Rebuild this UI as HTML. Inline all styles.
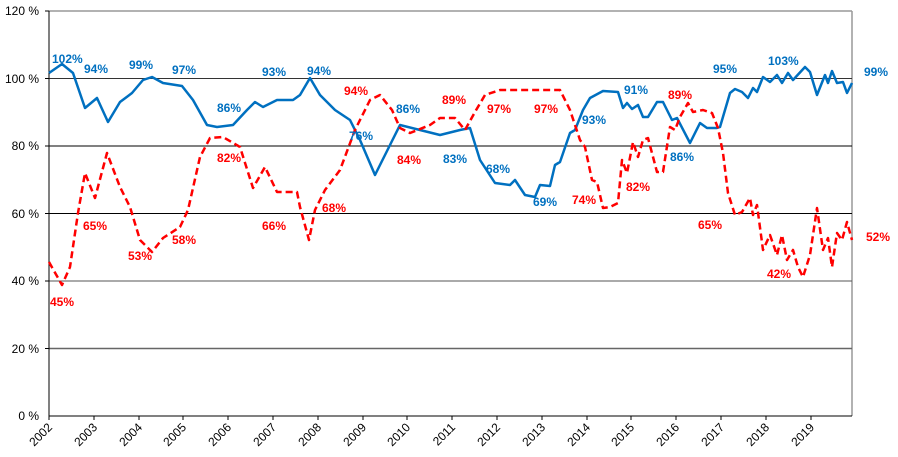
<!DOCTYPE html>
<html><head><meta charset="utf-8"><style>
html,body{margin:0;padding:0;background:#fff;}
svg{display:block;font-family:"Liberation Sans",Arial,sans-serif;}
.b{fill:#0070c0;font-weight:bold;font-size:12px;}
.r{fill:#ff0000;font-weight:bold;font-size:12px;}
.ax{font-size:12px;fill:#000;}
</style></head><body>
<svg width="898" height="457" viewBox="0 0 898 457">
<line x1="49" y1="11" x2="852" y2="11" stroke="#999" stroke-width="1.5"/>
<line x1="852" y1="11" x2="852" y2="416" stroke="#999" stroke-width="1.5"/>
<line x1="49" y1="78.5" x2="852" y2="78.5" stroke="#333" stroke-width="1"/>
<line x1="49" y1="146" x2="852" y2="146" stroke="#000" stroke-width="1"/>
<line x1="49" y1="213.5" x2="852" y2="213.5" stroke="#000" stroke-width="1"/>
<line x1="49" y1="281" x2="852" y2="281" stroke="#555" stroke-width="1"/>
<line x1="49" y1="348.5" x2="852" y2="348.5" stroke="#666" stroke-width="1.5"/>
<line x1="49" y1="11" x2="49" y2="416" stroke="#000" stroke-width="1"/>
<line x1="49" y1="416" x2="852" y2="416" stroke="#000" stroke-width="1"/>
<g stroke="#000">
<line x1="49" y1="416" x2="49" y2="420"/><line x1="94" y1="416" x2="94" y2="420"/><line x1="139" y1="416" x2="139" y2="420"/><line x1="183" y1="416" x2="183" y2="420"/><line x1="228" y1="416" x2="228" y2="420"/><line x1="273" y1="416" x2="273" y2="420"/><line x1="318" y1="416" x2="318" y2="420"/><line x1="363" y1="416" x2="363" y2="420"/><line x1="407" y1="416" x2="407" y2="420"/><line x1="452" y1="416" x2="452" y2="420"/><line x1="497" y1="416" x2="497" y2="420"/><line x1="542" y1="416" x2="542" y2="420"/><line x1="587" y1="416" x2="587" y2="420"/><line x1="631" y1="416" x2="631" y2="420"/><line x1="676" y1="416" x2="676" y2="420"/><line x1="721" y1="416" x2="721" y2="420"/><line x1="766" y1="416" x2="766" y2="420"/><line x1="811" y1="416" x2="811" y2="420"/>
<line x1="45" y1="11" x2="49" y2="11"/><line x1="45" y1="78.5" x2="49" y2="78.5"/><line x1="45" y1="146" x2="49" y2="146"/><line x1="45" y1="213.5" x2="49" y2="213.5"/><line x1="45" y1="281" x2="49" y2="281"/><line x1="45" y1="348.5" x2="49" y2="348.5"/>
</g>
<g class="ax" text-anchor="end">
<text x="39" y="15">120 %</text><text x="39" y="83">100 %</text><text x="39" y="150">80 %</text><text x="39" y="218">60 %</text><text x="39" y="285">40 %</text><text x="39" y="353">20 %</text><text x="39" y="420">0 %</text>
</g>
<g class="ax" text-anchor="end">
<text transform="translate(53,428) rotate(-45)">2002</text>
<text transform="translate(98,428) rotate(-45)">2003</text>
<text transform="translate(143,428) rotate(-45)">2004</text>
<text transform="translate(187,428) rotate(-45)">2005</text>
<text transform="translate(232,428) rotate(-45)">2006</text>
<text transform="translate(277,428) rotate(-45)">2007</text>
<text transform="translate(322,428) rotate(-45)">2008</text>
<text transform="translate(367,428) rotate(-45)">2009</text>
<text transform="translate(411,428) rotate(-45)">2010</text>
<text transform="translate(456,428) rotate(-45)">2011</text>
<text transform="translate(501,428) rotate(-45)">2012</text>
<text transform="translate(546,428) rotate(-45)">2013</text>
<text transform="translate(591,428) rotate(-45)">2014</text>
<text transform="translate(635,428) rotate(-45)">2015</text>
<text transform="translate(680,428) rotate(-45)">2016</text>
<text transform="translate(725,428) rotate(-45)">2017</text>
<text transform="translate(770,428) rotate(-45)">2018</text>
<text transform="translate(815,428) rotate(-45)">2019</text>
</g>
<polyline fill="none" stroke="#0070c0" stroke-width="2.5" stroke-linejoin="round" points="49,73 62,64 73,73 85,108 97,98 108,122 120,102 132,93 143,80 152,77 163,83 182,86 193,100 207,125 217,127 233,125 247,110 255,102 263,107 277,100 293,100 300,95 310,78 320,95 335,110 350,120 360,140 375,175 390,145 400,125 420,130 440,135 460,130 470,128 480,160 495,183 510,185 515,180 525,195 535,197 540,185 550,186 555,165 560,162 570,133 575,130 583,110 590,98 603,91 618,92 623,108 627,103 632,109 638,105 643,117 648,117 657,102 663,102 672,120 677,118 690,143 700,123 707,128 717,128 720,127 730,93 735,89 742,92 748,98 753,88 757,92 763,77 770,82 777,75 782,83 788,73 793,80 805,67 810,72 817,95 825,75 828,83 832,71 837,83 843,82 847,93 852,83"/>
<polyline fill="none" stroke="#ff0000" stroke-width="2.5" stroke-dasharray="7,4" stroke-linejoin="round" points="49,262 62,285 70,267 78,213 85,173 95,198 107,153 120,187 130,207 140,240 152,252 163,238 180,227 188,210 200,157 210,138 223,137 240,147 253,188 265,167 277,192 297,192 300,207 309,240 315,210 325,190 340,170 355,130 370,100 380,95 392,110 400,128 410,133 430,125 440,118 455,118 465,130 475,112 485,95 500,90 540,90 560,90 570,110 580,140 585,147 592,180 597,182 603,208 610,207 618,203 622,160 627,173 633,142 638,157 643,140 648,138 657,172 663,172 670,127 675,130 680,117 688,103 693,112 703,110 712,113 718,128 723,153 728,193 735,215 742,212 750,198 753,215 757,205 763,250 770,235 777,255 782,235 787,260 793,250 798,267 803,277 810,255 817,208 823,250 828,238 832,267 837,233 842,240 847,222 852,240"/>
<g class="b">
<text x="52" y="63">102%</text><text x="84" y="73">94%</text><text x="129" y="69">99%</text><text x="172" y="74">97%</text><text x="217" y="112">86%</text><text x="262" y="76">93%</text><text x="307" y="75">94%</text><text x="349" y="140">76%</text><text x="396" y="113">86%</text><text x="443" y="163">83%</text><text x="486" y="173">68%</text><text x="533" y="206">69%</text><text x="582" y="124">93%</text><text x="624" y="94">91%</text><text x="670" y="161">86%</text><text x="713" y="73">95%</text><text x="768" y="65">103%</text><text x="864" y="76">99%</text>
</g>
<g class="r">
<text x="50" y="306">45%</text><text x="83" y="230">65%</text><text x="128" y="260">53%</text><text x="172" y="244">58%</text><text x="217" y="162">82%</text><text x="262" y="230">66%</text><text x="322" y="212">68%</text><text x="344" y="95">94%</text><text x="397" y="164">84%</text><text x="442" y="104">89%</text><text x="487" y="113">97%</text><text x="534" y="113">97%</text><text x="572" y="204">74%</text><text x="626" y="191">82%</text><text x="668" y="99">89%</text><text x="698" y="229">65%</text><text x="767" y="278">42%</text><text x="866" y="241">52%</text>
</g>
</svg>
</body></html>
